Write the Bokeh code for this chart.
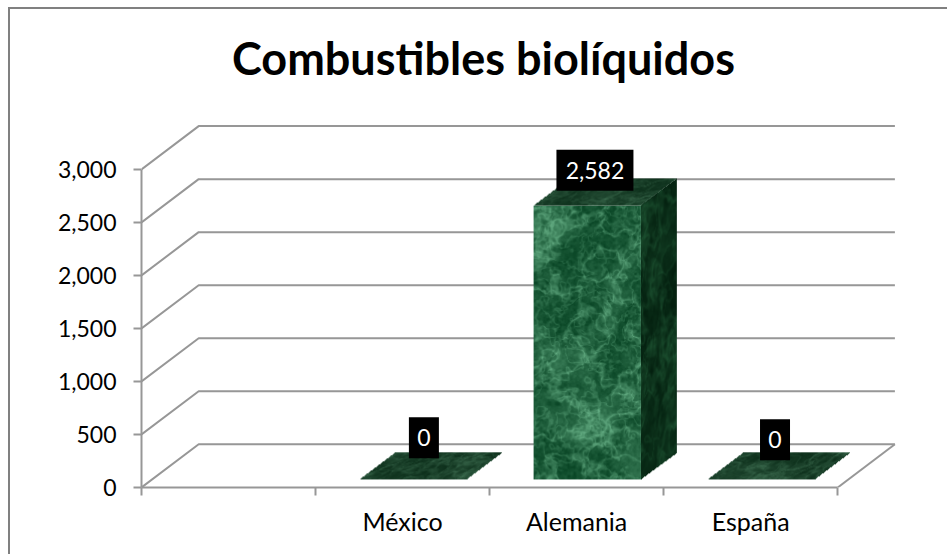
import numpy as np
from bokeh.embed import file_html
from bokeh.models import FixedTicker, Range1d
from bokeh.plotting import figure
from bokeh.resources import INLINE
from bokeh.core.properties import value

# Chart content
title_text = "Combustibles biolíquidos"
categories = ["México", "Alemania", "España"]
category_slots = [1, 2, 3]
values = [0, 2582, 0]
value_labels = ["0", "2,582", "0"]
value_ticks = [0, 500, 1000, 1500, 2000, 2500, 3000]
value_tick_labels = ["0", "500", "1,000", "1,500", "2,000", "2,500", "3,000"]

# Pixel scale and oblique projection of the 3-D box
PX_PER_SLOT = 173.5
PX_PER_UNIT = 52.75 / 500
DEPTH_DX = 57
DEPTH_DY = 43
BAR_WIDTH = 107 / PX_PER_SLOT
BAR_D0, BAR_D1 = 8 / 43, 35 / 43
FONT = "Lato"
GRID = "#979797"

# Page geometry; the figure sits inside a top/left border of the chart area
W, H = 947, 554
BORDER = 2
MARGIN_TOP, MARGIN_LEFT = 7, 8
ORIGIN_X, ORIGIN_Y = MARGIN_LEFT + 2 * BORDER - 1, MARGIN_TOP + 2 * BORDER - 1
FIG_W, FIG_H = W - MARGIN_LEFT - BORDER, H - MARGIN_TOP - BORDER
FRAME_L, FRAME_B, FRAME_T, FRAME_R = 142.5, 486, 105, 925


def project(slot, val, depth):
    """Map (category slot, value, depth 0..1) to plain data coordinates."""
    return (slot + depth * DEPTH_DX / PX_PER_SLOT,
            val + depth * DEPTH_DY / PX_PER_UNIT)


def lattice(ix, iy):
    """Repeatable pseudo-noise on integer lattice points."""
    v = np.sin(ix * 12.9898 + iy * 78.233) * 43758.5453
    return v - np.floor(v)


def smooth_noise(x, y):
    ix, iy = np.floor(x), np.floor(y)
    fx, fy = x - ix, y - iy
    fx, fy = fx * fx * (3 - 2 * fx), fy * fy * (3 - 2 * fy)
    a = lattice(ix, iy) * (1 - fx) + lattice(ix + 1, iy) * fx
    b = lattice(ix, iy + 1) * (1 - fx) + lattice(ix + 1, iy + 1) * fx
    return a * (1 - fy) + b * fy


def fractal(x, y, scale, octaves=5):
    total, amp, norm = 0.0, 1.0, 0.0
    for k in range(octaves):
        total = total + amp * smooth_noise(x / scale + k * 17.3, y / scale - k * 9.1)
        norm += amp
        amp *= 0.55
        scale = max(scale / 2, 0.8)
    return total / norm


def marble(s, t, seed, size, stretch=1.0):
    """Mottled stone with thin pale veins; returns 0..1 brightness."""
    x, y = s * size[0] + seed * 131.0, t * size[1] * stretch + seed * 57.0
    wx = x + 14 * (fractal(x, y, 30, 3) - 0.5)
    wy = y + 14 * (fractal(x + 40, y + 70, 30, 3) - 0.5)
    cloud = fractal(wx, wy, 34)
    vein = 1 - np.abs(2 * fractal(wx + 11, wy + 29, 22, 4) - 1) * 6
    vein2 = 1 - np.abs(2 * fractal(wx - 50, wy + 3, 11, 3) - 1) * 6
    n = 0.09 + 0.85 * np.clip(cloud - 0.45, 0, 1) + 0.3 * np.clip(vein, 0, 1) \
        + 0.2 * np.clip(vein2, 0, 1) + 0.2 * (fractal(x, y, 3, 2) - 0.5)
    return np.clip(n, 0, 1)


def face(p, corners, seed, dark, light, stretch=1.0):
    """Fill a parallelogram (origin, edge end, edge end) with stone via image_rgba."""
    o, a, b = [np.array(c, float) for c in corners]
    d = o + (a - o) + (b - o)
    pts = np.array([o, a, b, d])
    xmin, ymin = pts.min(axis=0)
    xmax, ymax = pts.max(axis=0)
    nx = max(int(round((xmax - xmin) * PX_PER_SLOT)), 1)
    ny = max(int(round((ymax - ymin) * PX_PER_UNIT)), 1)
    gx, gy = np.meshgrid(xmin + (np.arange(nx) + 0.5) / nx * (xmax - xmin),
                         ymin + (np.arange(ny) + 0.5) / ny * (ymax - ymin))
    e1, e2 = a - o, b - o
    det = e1[0] * e2[1] - e1[1] * e2[0]
    s = ((gx - o[0]) * e2[1] - (gy - o[1]) * e2[0]) / det
    t = (e1[0] * (gy - o[1]) - e1[1] * (gx - o[0])) / det
    size = (np.hypot(e1[0] * PX_PER_SLOT, e1[1] * PX_PER_UNIT),
            np.hypot(e2[0] * PX_PER_SLOT, e2[1] * PX_PER_UNIT))
    n = marble(s, t, seed, size, stretch)
    rgba = np.zeros((ny, nx, 4), dtype=np.uint8)
    for i in range(3):
        rgba[..., i] = (dark[i] + (light[i] - dark[i]) * n).astype(np.uint8)
    inside = (s >= 0) & (s <= 1) & (t >= 0) & (t <= 1)
    rgba[..., 3] = np.where(inside, 255, 0)
    p.image_rgba(image=[rgba.view(np.uint32).reshape(ny, nx)], x=[xmin], y=[ymin],
                 dw=[xmax - xmin], dh=[ymax - ymin], level="glyph")


frame_w = FRAME_R - int(FRAME_L)
frame_h = FRAME_B - FRAME_T
p = figure(width=FIG_W, height=FIG_H,
           output_backend="svg", toolbar_location=None,
           x_range=Range1d(0, (FRAME_R - FRAME_L) / PX_PER_SLOT),
           y_range=Range1d(0, frame_h / PX_PER_UNIT),
           min_border_left=int(FRAME_L) - ORIGIN_X,
           min_border_right=FIG_W - (int(FRAME_L) - ORIGIN_X) - frame_w,
           min_border_top=FRAME_T - ORIGIN_Y,
           min_border_bottom=FIG_H - (FRAME_T - ORIGIN_Y) - frame_h,
           outline_line_color=None, background_fill_color="white",
           border_fill_color="white",
           margin=(MARGIN_TOP, 0, 0, MARGIN_LEFT),
           styles={"border-top": f"{BORDER}px solid #808080",
                   "border-left": f"{BORDER}px solid #808080",
                   "box-sizing": "content-box"})
p.grid.visible = False

# Title
p.title.text = title_text
p.title.text_font = FONT
p.title.text_font_style = "bold"
p.title.text_font_size = "45px"
p.title.text_color = "black"
p.title.align = "left"
p.title.offset = 233 - FRAME_L
p.title.standoff = 39

# Value axis
ya = p.yaxis[0]
ya.ticker = FixedTicker(ticks=value_ticks)
ya.bounds = (value_ticks[0], value_ticks[-1])
ya.major_label_overrides = dict(zip(value_ticks, value_tick_labels))
ya.major_label_text_font = FONT
ya.major_label_text_font_size = "23px"
ya.major_label_text_color = "black"
ya.major_label_standoff = 17
ya.major_tick_in = 0
ya.major_tick_out = 8
ya.minor_tick_line_color = None
ya.axis_line_color = GRID
ya.major_tick_line_color = GRID
ya.axis_line_width = 2
ya.major_tick_line_width = 2

# Category axis: labels sit mid-slot, tick marks on slot boundaries
xa = p.xaxis[0]
slot_centres = [0.5] + [s + 0.5 for s in category_slots]
xa.ticker = FixedTicker(ticks=slot_centres, minor_ticks=[0, 1, 2, 3, 4])
xa.bounds = (0, 4)
xa.major_label_overrides = dict(zip(slot_centres, [""] + categories))
xa.major_label_text_font = FONT
xa.major_label_text_font_size = "25px"
xa.major_label_text_color = "black"
xa.major_label_standoff = 10
xa.major_tick_line_color = None
xa.minor_tick_in = 0
xa.minor_tick_out = 8
xa.minor_tick_line_color = GRID
xa.minor_tick_line_width = 2
xa.axis_line_color = GRID
xa.axis_line_width = 2

# Gridlines running along the side wall and across the back wall
for v in value_ticks:
    x0, y0 = project(0, v, 0)
    x1, y1 = project(0, v, 1)
    x2, y2 = project(4, v, 1)
    p.line([x0, x1, x2], [y0, y1, y2], line_color=GRID, line_width=2, level="underlay")
x0, y0 = project(4, 0, 0)
x1, y1 = project(4, 0, 1)
p.line([x0, x1], [y0, y1], line_color=GRID, line_width=2, level="underlay")

# Bars
for i, (slot, val) in enumerate(zip(category_slots, values)):
    left = slot + 0.5 - BAR_WIDTH / 2
    right = slot + 0.5 + BAR_WIDTH / 2
    if val > 0:
        face(p, [project(right, 0, BAR_D0), project(right, 0, BAR_D1), project(right, val, BAR_D0)],
             i + 3, (3, 30, 14), (34, 92, 56), stretch=0.5)
        face(p, [project(left, 0, BAR_D0), project(right, 0, BAR_D0), project(left, val, BAR_D0)],
             i + 1, (8, 68, 36), (120, 196, 152))
    face(p, [project(left, val, BAR_D0), project(right, val, BAR_D0), project(left, val, BAR_D1)],
         i + 5, (12, 46, 26), (70, 120, 90))

# Value labels: white on black boxes above each bar
label_px = [(424, 436.5, 30, 41), (594.5, 170.5, 77, 41), (774, 438.5, 30, 41)]
for (cx, cy, bw, bh), txt in zip(label_px, value_labels):
    lx = (cx - FRAME_L) / PX_PER_SLOT
    ly = (FRAME_B - cy) / PX_PER_UNIT
    p.rect([lx], [ly], width=bw, height=bh, width_units="screen", height_units="screen",
           fill_color="black", line_color=None, level="overlay")
    p.text([lx], [ly], text=[txt], text_color="white", text_font=value(FONT),
           text_font_size="23px", text_align="center", text_baseline="middle", level="overlay")

open("out.html", "w").write(file_html(p, INLINE))
